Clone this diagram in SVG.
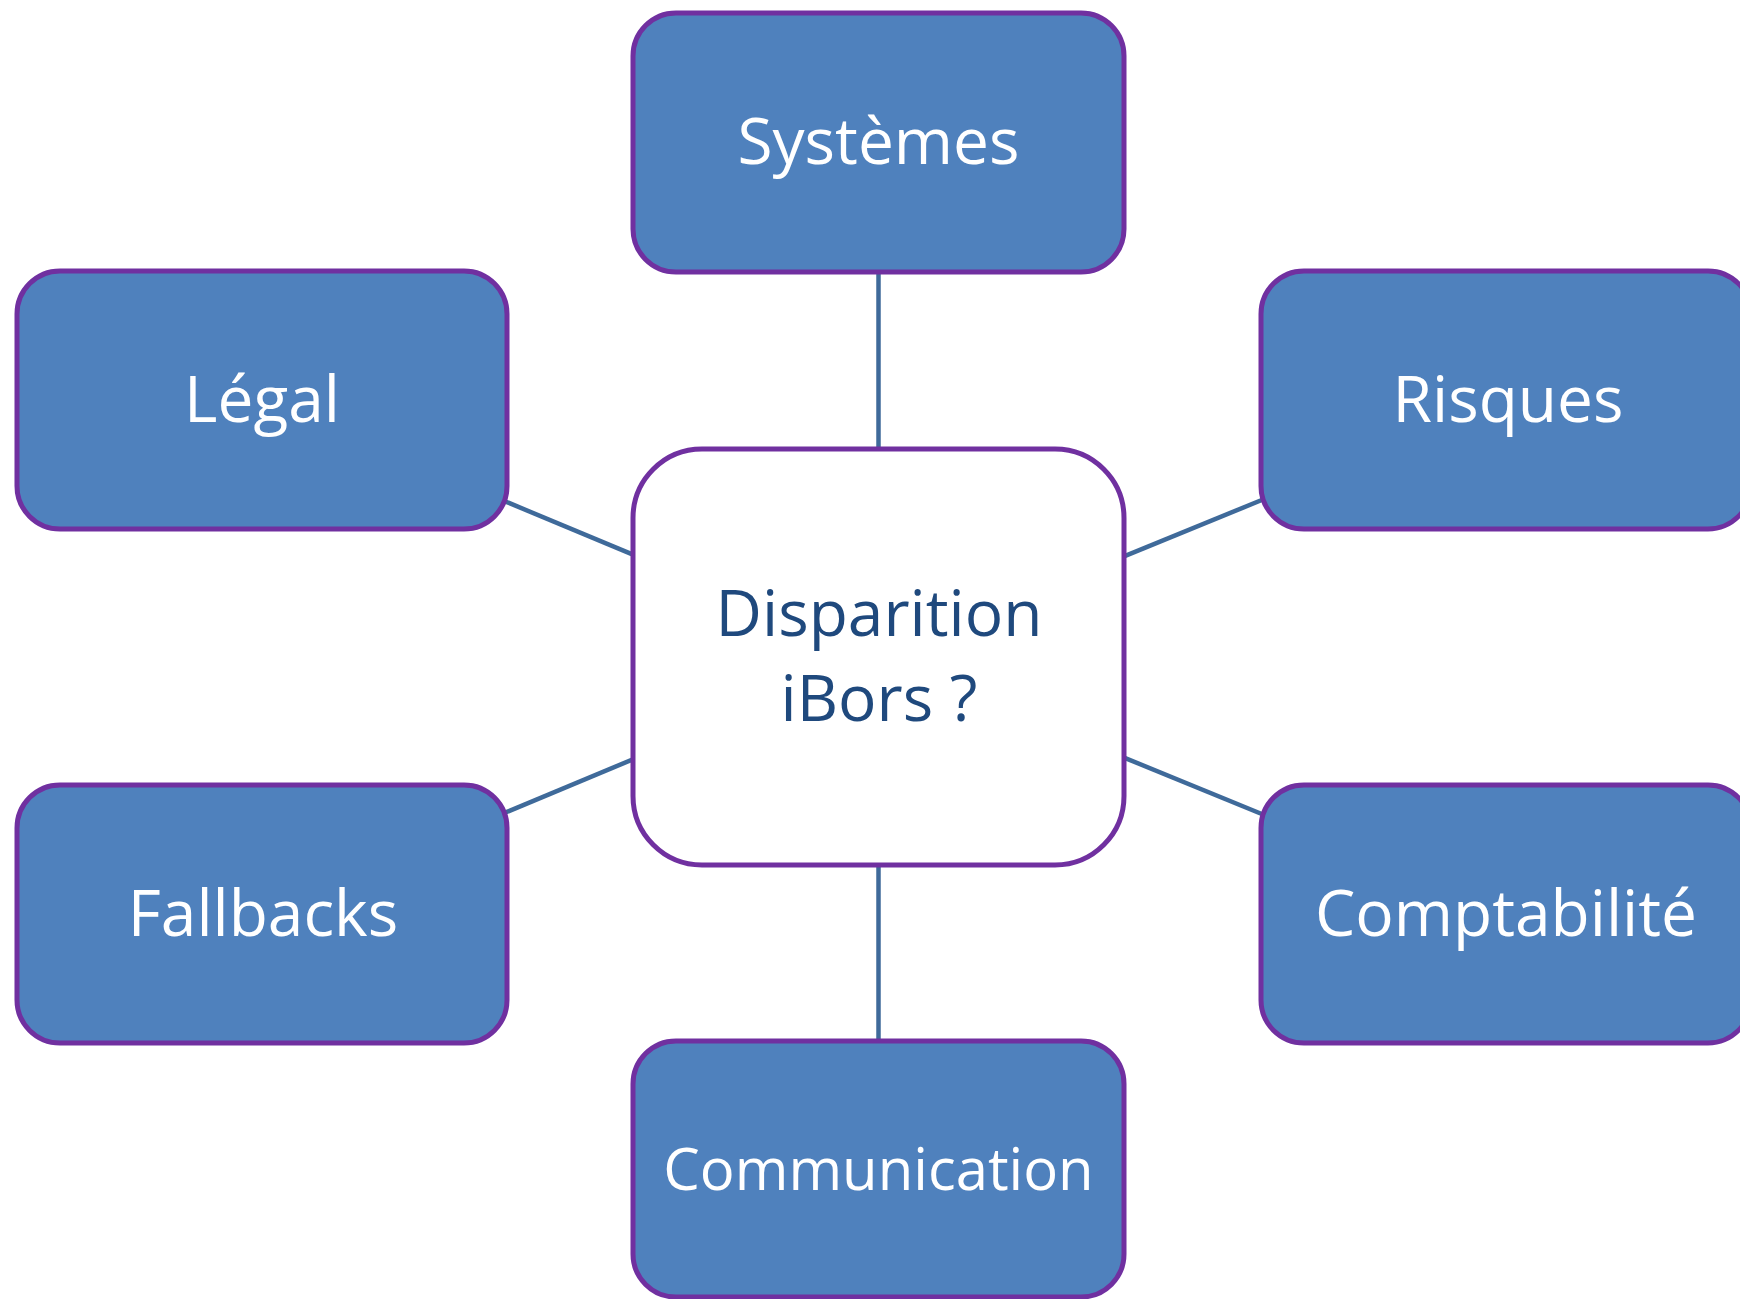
<svg xmlns="http://www.w3.org/2000/svg" width="1740" height="1299" viewBox="0 0 1740 1299">
  <style>
    .box { fill: #4F81BD; stroke: #7030A0; stroke-width: 5; }
    .hub { fill: #FFFFFF; stroke: #7030A0; stroke-width: 5; }
    .lbl { font-family: "Open Sans", "Liberation Sans", sans-serif; font-size: 64px; fill: #FFFFFF; text-anchor: middle; }
    .hubtxt { font-family: "Open Sans", "Liberation Sans", sans-serif; font-size: 64px; fill: #1F497D; text-anchor: middle; }
    .link { stroke: #3F6A9A; stroke-width: 4.5; fill: none; }
  </style>
  <rect width="1740" height="1299" fill="#FFFFFF"/>

  <!-- links from the hub to each topic -->
  <g id="connectors">
    <line class="link" x1="878.5" y1="272" x2="878.5" y2="449"/>
    <line class="link" x1="878.5" y1="865" x2="878.5" y2="1041"/>
    <line class="link" x1="505" y1="501.3" x2="633" y2="554.7"/>
    <line class="link" x1="505" y1="812.7" x2="633" y2="759.3"/>
    <line class="link" x1="1124" y1="556.4" x2="1263" y2="499.5"/>
    <line class="link" x1="1124" y1="757.6" x2="1263" y2="814.5"/>
  </g>

  <g id="hub">
    <rect class="hub" x="633" y="449" width="491" height="416" rx="69" ry="69"/>
    <text class="hubtxt" x="879" y="636">Disparition</text>
    <text class="hubtxt" x="879" y="721">iBors ?</text>
  </g>

  <g id="systemes">
    <rect class="box" x="633" y="13" width="491" height="259" rx="43" ry="43"/>
    <text class="lbl" x="878.5" y="164">Systèmes</text>
  </g>

  <g id="legal">
    <rect class="box" x="17" y="271" width="490" height="258" rx="43" ry="43"/>
    <text class="lbl" x="262" y="422">Légal</text>
  </g>

  <g id="risques">
    <rect class="box" x="1261" y="271" width="490" height="258" rx="43" ry="43"/>
    <text class="lbl" x="1508" y="422">Risques</text>
  </g>

  <g id="fallbacks">
    <rect class="box" x="17" y="785" width="490" height="258" rx="43" ry="43"/>
    <text class="lbl" x="263" y="936">Fallbacks</text>
  </g>

  <g id="comptabilite">
    <rect class="box" x="1261" y="785" width="490" height="258" rx="43" ry="43"/>
    <text class="lbl" x="1506" y="936">Comptabilité</text>
  </g>

  <g id="communication">
    <rect class="box" x="633" y="1041" width="491" height="256" rx="43" ry="43"/>
    <text class="lbl" x="878.5" y="1190" style="font-size:58px">Communication</text>
  </g>
</svg>
